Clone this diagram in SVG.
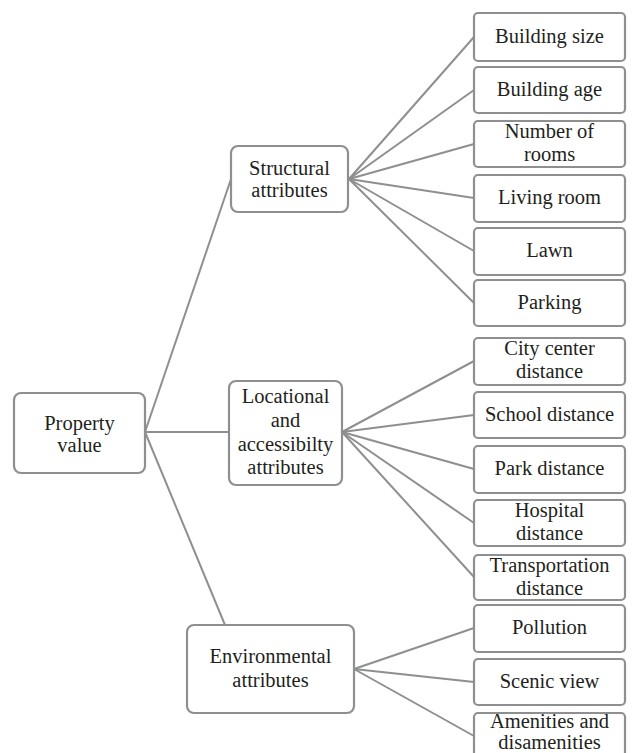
<svg xmlns="http://www.w3.org/2000/svg" width="635" height="753" viewBox="0 0 635 753">
  <style>
    .box { fill: #ffffff; stroke: #8d8f91; stroke-width: 2.2; }
    .link { stroke: #8d8f91; stroke-width: 2; fill: none; }
    text { font-family: "Liberation Serif", "Times New Roman", serif; font-size: 20.5px; fill: #231f20; text-anchor: middle; }
  </style>
  <rect width="635" height="753" fill="#ffffff"/>

  <!-- connectors -->
  <g id="connectors" class="link">
    <line x1="145" y1="432" x2="231" y2="179"/>
    <line x1="145" y1="432" x2="229" y2="432"/>
    <line x1="145" y1="432" x2="225" y2="625"/>
    <!-- structural fan -->
    <line x1="349" y1="179" x2="474" y2="37"/>
    <line x1="349" y1="179" x2="474" y2="90"/>
    <line x1="349" y1="179" x2="474" y2="144"/>
    <line x1="349" y1="179" x2="474" y2="198"/>
    <line x1="349" y1="179" x2="474" y2="251"/>
    <line x1="349" y1="179" x2="474" y2="303"/>
    <!-- locational fan -->
    <line x1="342" y1="432" x2="474" y2="361"/>
    <line x1="342" y1="432" x2="474" y2="415"/>
    <line x1="342" y1="432" x2="474" y2="469"/>
    <line x1="342" y1="432" x2="474" y2="523"/>
    <line x1="342" y1="432" x2="474" y2="577"/>
    <!-- environmental fan -->
    <line x1="354" y1="669" x2="474" y2="628"/>
    <line x1="354" y1="669" x2="474" y2="682"/>
    <line x1="354" y1="669" x2="474" y2="736"/>
  </g>

  <!-- root -->
  <g id="property-value">
    <rect class="box" x="14" y="393" width="131" height="80" rx="7"/>
    <text x="79.5" y="430">Property</text>
    <text x="79.5" y="452">value</text>
  </g>

  <!-- attribute groups -->
  <g id="structural">
    <rect class="box" x="231" y="146" width="117" height="66" rx="7"/>
    <text x="289.5" y="175">Structural</text>
    <text x="289.5" y="197">attributes</text>
  </g>
  <g id="locational">
    <rect class="box" x="229" y="381" width="113" height="104" rx="7"/>
    <text x="285.5" y="403">Locational</text>
    <text x="285.5" y="427">and</text>
    <text x="285.5" y="451">accessibilty</text>
    <text x="285.5" y="474">attributes</text>
  </g>
  <g id="environmental">
    <rect class="box" x="187" y="625" width="167" height="88" rx="7"/>
    <text x="270.5" y="663">Environmental</text>
    <text x="270.5" y="687">attributes</text>
  </g>

  <!-- leaf attributes -->
  <g id="building-size">
    <rect class="box" x="474" y="13" width="151" height="48" rx="4"/>
    <text x="549.5" y="43">Building size</text>
  </g>
  <g id="building-age">
    <rect class="box" x="474" y="67" width="151" height="46" rx="4"/>
    <text x="549.5" y="96">Building age</text>
  </g>
  <g id="number-of-rooms">
    <rect class="box" x="474" y="121" width="151" height="46" rx="4"/>
    <text x="549.5" y="138">Number of</text>
    <text x="549.5" y="161">rooms</text>
  </g>
  <g id="living-room">
    <rect class="box" x="474" y="175" width="151" height="47" rx="4"/>
    <text x="549.5" y="204">Living room</text>
  </g>
  <g id="lawn">
    <rect class="box" x="474" y="228" width="151" height="47" rx="4"/>
    <text x="549.5" y="257">Lawn</text>
  </g>
  <g id="parking">
    <rect class="box" x="474" y="280" width="151" height="46" rx="4"/>
    <text x="549.5" y="309">Parking</text>
  </g>
  <g id="city-center-distance">
    <rect class="box" x="474" y="338" width="151" height="47" rx="4"/>
    <text x="549.5" y="355">City center</text>
    <text x="549.5" y="378">distance</text>
  </g>
  <g id="school-distance">
    <rect class="box" x="474" y="392" width="151" height="46" rx="4"/>
    <text x="549.5" y="421">School distance</text>
  </g>
  <g id="park-distance">
    <rect class="box" x="474" y="446" width="151" height="47" rx="4"/>
    <text x="549.5" y="475">Park distance</text>
  </g>
  <g id="hospital-distance">
    <rect class="box" x="474" y="500" width="151" height="46" rx="4"/>
    <text x="549.5" y="517">Hospital</text>
    <text x="549.5" y="540">distance</text>
  </g>
  <g id="transportation-distance">
    <rect class="box" x="474" y="555" width="151" height="45" rx="4"/>
    <text x="549.5" y="572">Transportation</text>
    <text x="549.5" y="595">distance</text>
  </g>
  <g id="pollution">
    <rect class="box" x="474" y="605" width="151" height="47" rx="4"/>
    <text x="549.5" y="634">Pollution</text>
  </g>
  <g id="scenic-view">
    <rect class="box" x="474" y="659" width="151" height="46" rx="4"/>
    <text x="549.5" y="688">Scenic view</text>
  </g>
  <g id="amenities-and-disamenities">
    <rect class="box" x="474" y="713" width="151" height="47" rx="4"/>
    <text x="549.5" y="728">Amenities and</text>
    <text x="549.5" y="749">disamenities</text>
  </g>
</svg>
